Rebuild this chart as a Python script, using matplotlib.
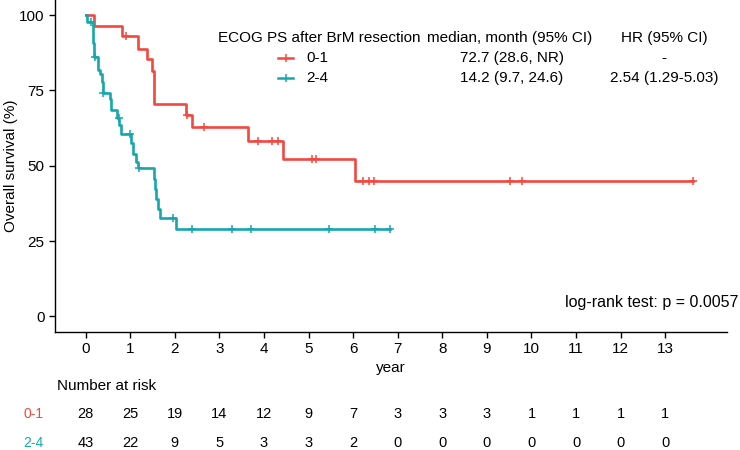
import numpy as np
import matplotlib
matplotlib.use("Agg")
import matplotlib.pyplot as plt
from matplotlib.lines import Line2D
from matplotlib.transforms import blended_transform_factory

# ==========================================================
# Data
# ==========================================================

groups = ["0-1", "2-4"]

# step function of the KM curves: time (year) of each drop, level after it (%)
red_times = [0.19, 0.82, 1.18, 1.38, 1.48, 1.53, 2.26, 2.38, 3.64, 4.42, 6.05]
red_surv = [96.4, 92.9, 88.9, 85.4, 81.5, 70.5, 67.0, 62.8, 58.1, 52.3, 45.0]
red_end = 13.63
red_censor = [0.91, 2.27, 2.65, 3.86, 4.19, 4.31, 5.07, 5.17,
              6.22, 6.35, 6.46, 9.51, 9.78, 13.63]

teal_times = [0.03, 0.16, 0.20, 0.28, 0.33, 0.37, 0.39, 0.54, 0.58, 0.70,
              0.76, 0.80, 1.02, 1.06, 1.14, 1.17, 1.53, 1.56, 1.59, 1.62,
              1.66, 2.02]
teal_surv = [97.7, 90.6, 86.2, 81.7, 80.6, 77.9, 74.0, 72.3, 68.4, 65.7,
             63.5, 60.7, 57.4, 54.0, 51.3, 49.1, 45.7, 42.4, 39.1, 35.8,
             32.7, 29.0]
teal_end = 6.82
teal_censor = [0.12, 0.22, 0.40, 0.74, 1.00, 1.20, 1.97, 2.39, 3.28,
               3.70, 5.45, 6.49, 6.82]

risk_years = list(range(0, 14))
risk_red = [28, 25, 19, 14, 12, 9, 7, 3, 3, 3, 1, 1, 1, 1]
risk_teal = [43, 22, 9, 5, 3, 3, 2, 0, 0, 0, 0, 0, 0, 0]

medians = ["72.7 (28.6, NR)", "14.2 (9.7, 24.6)"]
hazard = ["-", "2.54 (1.29-5.03)"]

RED = "#F4473F"
TEAL = "#14A7AD"

plt.rcParams["font.family"] = ["Liberation Sans", "DejaVu Sans"]
plt.rcParams["font.size"] = 11

W, H = 740, 450


def fx(px):
    return px / W


def fy(py):
    return 1 - py / H


# ==========================================================
# Figure
# ==========================================================

fig = plt.figure(figsize=(7.4, 4.5), dpi=100)
ax = fig.add_axes([fx(55), fy(331.5), fx(672), 331.5 / H])

for times, surv, end, cens, col in [
    (red_times, red_surv, red_end, red_censor, RED),
    (teal_times, teal_surv, teal_end, teal_censor, TEAL),
]:
    t = np.array([0] + times + [end])
    s = np.array([100] + surv + [surv[-1]])
    ax.step(t, s, where="post", color=col, linewidth=1.9)
    idx = np.searchsorted(t, cens, side="right") - 1
    ax.plot(cens, s[idx], linestyle="none", marker="+", color=col,
            markersize=6, markeredgewidth=1.1)

ax.set_xlim(-0.685, 14.385)
ax.set_ylim(-5, 105)
ax.set_xticks(risk_years)
ax.set_yticks([0, 25, 50, 75, 100])
ax.spines["top"].set_visible(False)
ax.spines["right"].set_visible(False)
ax.spines["left"].set_linewidth(1.0)
ax.spines["bottom"].set_linewidth(1.0)
ax.tick_params(direction="out", length=4, width=1.0, labelsize=11,
               colors="black")
ax.set_ylabel("Overall survival (%)", fontsize=11, labelpad=1)

fig.text(fx(738), fy(302), "log-rank test: p = 0.0057", ha="right",
         va="center", fontsize=11.5)

# ==========================================================
# Legend table
# ==========================================================

fig.text(fx(218), fy(38), "ECOG PS after BrM resection", ha="left",
         va="center", fontsize=11)
fig.text(fx(510), fy(38), "median, month (95% CI)", ha="center",
         va="center", fontsize=11)
fig.text(fx(664), fy(38), "HR (95% CI)", ha="center", va="center",
         fontsize=11)

for i, (g, col) in enumerate(zip(groups, [RED, TEAL])):
    yy = fy(58 + 20 * i)
    fig.add_artist(Line2D([fx(278), fx(293)], [yy, yy], color=col,
                          linewidth=1.8))
    fig.add_artist(Line2D([fx(285.5)], [yy], color=col, marker="|",
                          markersize=6, markeredgewidth=1.1))
    fig.text(fx(306), yy, g, ha="left", va="center", fontsize=11)
    fig.text(fx(512), yy, medians[i], ha="center", va="center", fontsize=11)
    fig.text(fx(664), yy, hazard[i], ha="center", va="center", fontsize=11)

# ==========================================================
# Axis title and number at risk
# ==========================================================

fig.text(fx(391), fy(368), "year", ha="center", va="center", fontsize=11)
fig.text(fx(57), fy(386), "Number at risk", ha="left", va="center",
         fontsize=11)

trans = blended_transform_factory(ax.transData, fig.transFigure)
for row, col, yp, lab in [(risk_red, RED, 414, "0-1"),
                          (risk_teal, TEAL, 443, "2-4")]:
    fig.text(fx(33), fy(yp), lab, ha="center", va="center", fontsize=10,
             color=col)
    for x, n in zip(risk_years, row):
        ax.text(x, fy(yp), str(n), transform=trans, ha="center",
                va="center", fontsize=10.5, clip_on=False)

fig.savefig("out.png", dpi=100)
plt.close(fig)
